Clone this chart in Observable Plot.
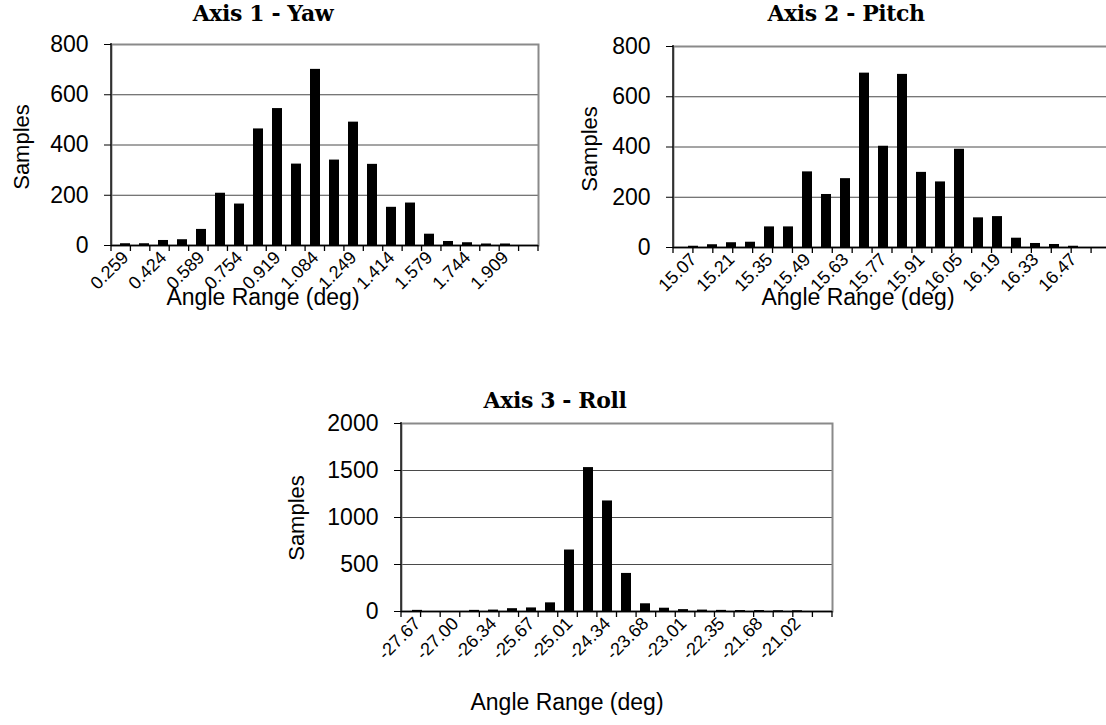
<!DOCTYPE html>
<html>
<head>
<meta charset="utf-8">
<script src="https://cdn.jsdelivr.net/npm/d3@7"></script>
<script src="https://cdn.jsdelivr.net/npm/@observablehq/plot@0.6"></script>
<style>
  html, body { margin: 0; padding: 0; background: #fff; }
  #root { position: relative; width: 1106px; height: 725px; overflow: hidden; background: #fff; }
  .chart { position: absolute; }
  .lbl { position: absolute; transform: translate(-50%, -50%); white-space: nowrap; color: #000; }
  .title { font-family: "DejaVu Serif", "Liberation Serif", serif; font-weight: bold; font-size: 22px; letter-spacing: -0.4px; }
  .axlbl { font-family: "Liberation Sans", Arial, sans-serif; font-size: 23px; }
  .ylbl { transform: translate(-50%, -50%) rotate(-90deg); font-size: 22px; }
</style>
</head>
<body>
<div id="root"></div>
<script>
// ---- Data ----
const yawCategories = ["0.259","0.342","0.424","0.507","0.589","0.672","0.754","0.837","0.919","1.002","1.084","1.167","1.249","1.332","1.414","1.497","1.579","1.662","1.744","1.827","1.909","1.992"];
const yawSamples = [7, 7, 20, 23, 64, 208, 165, 464, 545, 324, 701, 340, 491, 323, 152, 169, 45, 16, 11, 6, 6, null];
const yawTickLabels = ["0.259","0.424","0.589","0.754","0.919","1.084","1.249","1.414","1.579","1.744","1.909"];

const pitchCategories = ["15.07","15.14","15.21","15.28","15.35","15.42","15.49","15.56","15.63","15.70","15.77","15.84","15.91","15.98","16.05","16.12","16.19","16.26","16.33","16.40","16.47","16.54"];
const pitchSamples = [5, 11, 19, 21, 82, 82, 301, 211, 274, 694, 403, 689, 299, 261, 391, 118, 123, 37, 16, 12, 5, null];
const pitchTickLabels = ["15.07","15.21","15.35","15.49","15.63","15.77","15.91","16.05","16.19","16.33","16.47"];

const rollCategories = ["-27.67","-27.34","-27.00","-26.67","-26.34","-26.01","-25.67","-25.34","-25.01","-24.68","-24.34","-24.01","-23.68","-23.35","-23.01","-22.68","-22.35","-22.02","-21.68","-21.35","-21.02","-20.69"];
const rollSamples = [12, null, null, 12, 15, 30, 38, 92, 654, 1531, 1176, 405, 82, 35, 20, 15, 12, 10, 10, 8, 8, null];
const rollTickLabels = ["-27.67","-27.00","-26.34","-25.67","-25.01","-24.34","-23.68","-23.01","-22.35","-21.68","-21.02"];

const countTicks = [0, 200, 400, 600, 800];
const rollCountTicks = [0, 500, 1000, 1500, 2000];

const titles = ["Axis 1 - Yaw", "Axis 2 - Pitch", "Axis 3 - Roll"];
const xTitle = "Angle Range (deg)";
const yTitle = "Samples";

// ---- Rendering ----
const root = document.getElementById("root");

function addLabel(text, cls, x, y) {
  const d = document.createElement("div");
  d.className = "lbl " + cls;
  d.textContent = text;
  d.style.left = x + "px";
  d.style.top = y + "px";
  root.appendChild(d);
}

function histogram(cfg) {
  const data = cfg.cats.map((c, i) => ({c, v: cfg.vals[i]})).filter(d => d.v != null);
  const yMax = cfg.yTicks[cfg.yTicks.length - 1];
  const chart = Plot.plot({
    width: cfg.width, height: cfg.height,
    marginLeft: cfg.ml, marginRight: cfg.mr, marginTop: cfg.mt, marginBottom: cfg.mb,
    style: {background: "transparent", fontFamily: "'Liberation Sans', Arial, sans-serif", fontSize: "18px", color: "#000", overflow: "visible"},
    x: {type: "band", domain: cfg.cats, paddingInner: 0.5, paddingOuter: 0.25, label: null},
    y: {domain: [0, yMax], label: null},
    marks: [
      Plot.gridY(cfg.yTicks.slice(1, -1), {stroke: "#4a4a4a", strokeOpacity: 1, strokeWidth: 1}),
      Plot.frame({stroke: "#8a8a8a", strokeWidth: 2}),
      Plot.barY(data, {x: "c", y: "v", fill: "#000"}),
      Plot.ruleY([0], {stroke: "#000", strokeWidth: 1.3}),
      Plot.axisY(cfg.yTicks, {tickSize: 7, tickPadding: 16, fontSize: 23, tickFormat: d => String(d), stroke: "#000", label: null}),
      Plot.axisX(cfg.tickLabels, {tickSize: 0, tickRotate: -45, tickPadding: 9, fontSize: 18, label: null})
    ]
  });
  // enforce tick label font sizes
  const svg = d3.select(chart);
  svg.selectAll('g[aria-label="y-axis tick label"]').style("font-size", "23px");
  svg.selectAll('g[aria-label="x-axis tick label"]').style("font-size", "18px");
  // left axis line and category boundary ticks
  const sx = chart.scale("x");
  const sy = chart.scale("y");
  const [r0, r1] = sx.range;
  const n = cfg.cats.length;
  const step = (r1 - r0) / n;
  const y0 = sy.apply(0), yTop = sy.apply(yMax);
  const g = svg.append("g").attr("stroke", "#000").attr("stroke-width", 1.3);
  g.append("line").attr("x1", r0).attr("x2", r0).attr("y1", yTop - 1).attr("y2", y0 + 6);
  for (let i = 1; i <= n; i++) {
    g.append("line").attr("x1", r0 + i * step).attr("x2", r0 + i * step).attr("y1", y0).attr("y2", y0 + 6);
  }
  chart.classList.add("chart");
  chart.style.left = cfg.left + "px";
  chart.style.top = cfg.top + "px";
  root.appendChild(chart);
}

histogram({cats: yawCategories, vals: yawSamples, tickLabels: yawTickLabels, yTicks: countTicks,
  left: 0, top: 0, width: 560, height: 330, ml: 111, mr: 22, mt: 44, mb: 85});
histogram({cats: pitchCategories, vals: pitchSamples, tickLabels: pitchTickLabels, yTicks: countTicks,
  left: 560, top: 0, width: 560, height: 330, ml: 113, mr: 9, mt: 46, mb: 83});
histogram({cats: rollCategories, vals: rollSamples, tickLabels: rollTickLabels, yTicks: rollCountTicks,
  left: 290, top: 380, width: 560, height: 345, ml: 111, mr: 18, mt: 43, mb: 114});

addLabel(titles[0], "title", 263, 13);
addLabel(titles[1], "title", 846, 13);
addLabel(titles[2], "title", 555, 400);
addLabel(xTitle, "axlbl", 263, 297);
addLabel(xTitle, "axlbl", 858, 297);
addLabel(xTitle, "axlbl", 567, 702);
addLabel(yTitle, "axlbl ylbl", 22, 147);
addLabel(yTitle, "axlbl ylbl", 590, 149);
addLabel(yTitle, "axlbl ylbl", 297, 518);
</script>
</body>
</html>
